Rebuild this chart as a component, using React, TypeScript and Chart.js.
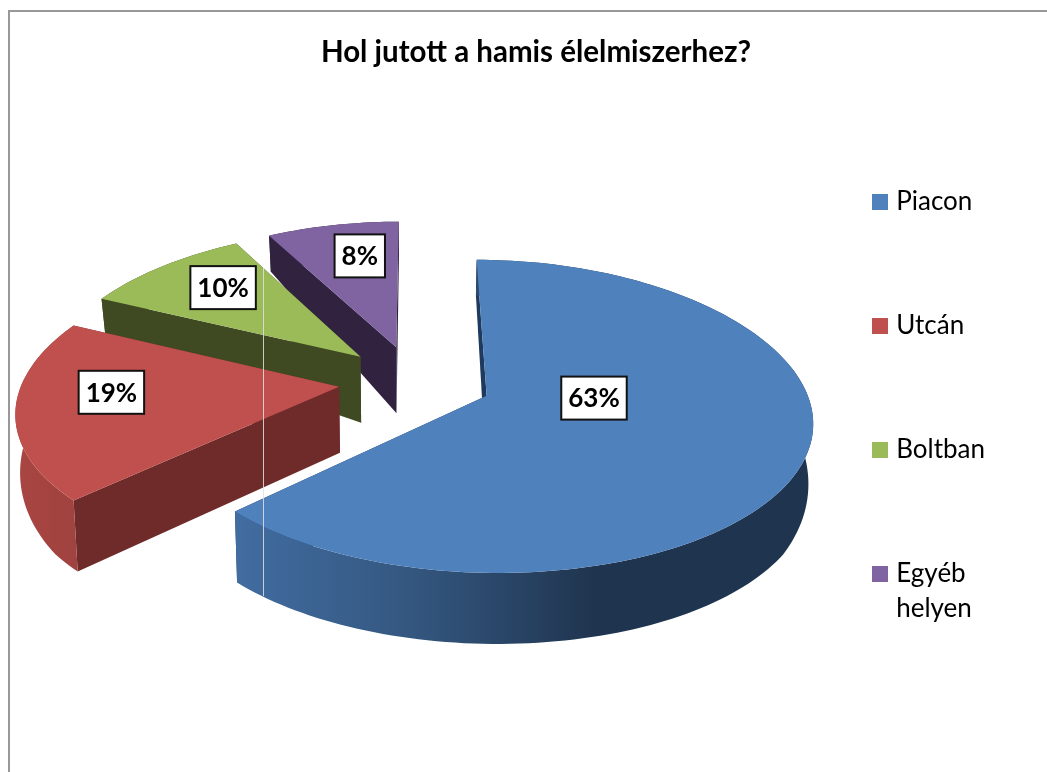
import React, { useEffect, useRef } from "react";
import { Chart, registerables } from "chart.js";

Chart.register(...registerables);

const titleText = "Hol jutott a hamis élelmiszerhez?";
const categories = ["Piacon", "Utcán", "Boltban", "Egyéb helyen"];
const legendLines = [["Piacon"], ["Utcán"], ["Boltban"], ["Egyéb", "helyen"]];
const shares = [63, 19, 10, 8];
const sliceOffsets = [30.6, 30, 30, 30];
const topColors = ["#4F81BD", "#C0504D", "#9BBB59", "#8064A2"];
const cutColors = ["#1F3A5F", "#6F2B2A", "#3F4A22", "#312340"];
const wallStops = [
  ["#426DA1", "#33567E", "#1F344E"],
  ["#A94643", "#A44340", "#A04340"],
  ["#3F4A22", "#3F4A22", "#3F4A22"],
  ["#312340", "#312340", "#312340"],
];
// label anchor relative to each slice's apex, in pie-disc units
const labelAnchors = [
  [0.333, 0.015],
  [-0.71, 0.037],
  [-0.494, -0.513],
  [-0.139, -0.703],
];

const FONT = "Lato, Carlito, sans-serif";

// pie-disc to screen projection (perspective view of the tilted pie)
const view = { ox: 414.5, oy: 381, a: 316.5, b: 150, ky: 0.13, offsetUnit: 125 };
const project = (u: number, v: number) => {
  const wx = 1 - 0.15 * v + 0.01 * v * v;
  const wy = 1 - view.ky * v;
  return { x: view.ox + (view.a * u) / wx, y: view.oy + (view.b * v) / wy };
};
const sink = (p: { x: number; y: number }, depth: number) => ({
  x: p.x + 0.012 * (view.ox - p.x),
  y: p.y + depth,
});
const rimDepth = (v: number) => Math.max(36, Math.min(71, 51.5 + 31 * v));
const APEX_DEPTH = 66;

function fillPoly(ctx: CanvasRenderingContext2D, pts: { x: number; y: number }[], fill: any) {
  ctx.beginPath();
  pts.forEach((p, i) => (i ? ctx.lineTo(p.x, p.y) : ctx.moveTo(p.x, p.y)));
  ctx.closePath();
  ctx.fillStyle = fill;
  ctx.fill();
}

const pie3d = {
  id: "pie3d",
  beforeDatasetDraw(chart: any) {
    const ctx: CanvasRenderingContext2D = chart.ctx;
    const arcs = chart.getDatasetMeta(0).data;
    ctx.save();
    for (let i = arcs.length - 1; i >= 0; i--) {
      const arc = arcs[i];
      const mid = (arc.startAngle + arc.endAngle) / 2;
      const explode = arc.options.offset / view.offsetUnit;
      const ex = Math.cos(mid) * explode;
      const ey = Math.sin(mid) * explode;
      const rim: { u: number; v: number }[] = [];
      const steps = Math.max(8, Math.round((arc.endAngle - arc.startAngle) * 40));
      for (let s = 0; s <= steps; s++) {
        const t = arc.startAngle + ((arc.endAngle - arc.startAngle) * s) / steps;
        rim.push({ u: ex + Math.cos(t), v: ey + Math.sin(t) });
      }
      const rimTop = rim.map((r) => project(r.u, r.v));
      const rimBottom = rimTop.map((p, k) => sink(p, rimDepth(rim[k].v)));
      const apex = project(ex, ey);
      const apexBottom = sink(apex, APEX_DEPTH);

      fillPoly(ctx, [apex, rimTop[0], rimBottom[0], apexBottom], cutColors[i]);
      fillPoly(ctx, [apex, rimTop[steps], rimBottom[steps], apexBottom], cutColors[i]);

      const xs = rimTop.map((p) => p.x);
      const left = Math.min(...xs);
      const span = i === 0 ? 364 : 63;
      const grad = ctx.createLinearGradient(left, 0, left + span, 0);
      wallStops[i].forEach((c, k) => grad.addColorStop(k / 2, c));
      fillPoly(ctx, [...rimTop, ...rimBottom.slice().reverse()], grad);

      fillPoly(ctx, [apex, ...rimTop], topColors[i]);
    }
    ctx.restore();
    return false;
  },
  afterDatasetsDraw(chart: any) {
    const ctx: CanvasRenderingContext2D = chart.ctx;
    const arcs = chart.getDatasetMeta(0).data;
    const values: number[] = chart.data.datasets[0].data;
    const total = values.reduce((s, n) => s + n, 0);
    ctx.save();
    // thin pale seam across the picture, as in the source image
    ctx.strokeStyle = "rgba(225,225,225,0.85)";
    ctx.lineWidth = 1;
    ctx.beginPath();
    ctx.moveTo(263.5, 268);
    ctx.lineTo(263.5, 596);
    ctx.stroke();

    ctx.font = `bold 26px ${FONT}`;
    ctx.textAlign = "center";
    ctx.textBaseline = "middle";
    arcs.forEach((arc: any, i: number) => {
      const mid = (arc.startAngle + arc.endAngle) / 2;
      const explode = arc.options.offset / view.offsetUnit;
      const p = project(
        Math.cos(mid) * explode + labelAnchors[i][0],
        Math.sin(mid) * explode + labelAnchors[i][1]
      );
      const text = `${Math.round((values[i] / total) * 100)}%`;
      const w = ctx.measureText(text).width + 14;
      const h = 43;
      ctx.fillStyle = "#fff";
      ctx.fillRect(p.x - w / 2, p.y - h / 2, w, h);
      ctx.strokeStyle = "#111";
      ctx.lineWidth = 2;
      ctx.strokeRect(p.x - w / 2, p.y - h / 2, w, h);
      ctx.fillStyle = "#000";
      ctx.fillText(text, p.x, p.y + 1);
    });
    ctx.restore();
  },
};

function swatch(color: string) {
  const c = document.createElement("canvas");
  c.width = 16;
  c.height = 16;
  const g = c.getContext("2d")!;
  g.fillStyle = color;
  g.fillRect(0, 0, 16, 16);
  return c;
}

export default function App() {
  const ref = useRef<HTMLCanvasElement>(null);
  useEffect(() => {
    const chart = new Chart(ref.current!, {
      type: "pie",
      data: {
        labels: categories,
        datasets: [{ data: shares, backgroundColor: topColors, borderWidth: 0, offset: sliceOffsets }],
      },
      options: {
        responsive: false,
        animation: false,
        layout: { padding: { left: 77, top: 0, right: 52, bottom: 0 } },
        plugins: {
          tooltip: { enabled: false },
          title: {
            display: true,
            text: titleText,
            color: "#000",
            font: { family: FONT, size: 29.5, weight: "bold" },
            padding: { top: 35, bottom: 20.5 },
            fullSize: true,
          },
          legend: {
            position: "right",
            align: "start",
            fullSize: false,
            labels: {
              color: "#000",
              font: { family: FONT, size: 26, lineHeight: 1.33 },
              usePointStyle: true,
              pointStyleWidth: 6,
              padding: 98,
              generateLabels: () =>
                legendLines.map((lines, i) => ({
                  text: lines.length > 1 ? lines : lines[0],
                  fillStyle: topColors[i],
                  strokeStyle: topColors[i],
                  lineWidth: 0,
                  pointStyle: swatch(topColors[i]),
                  index: i,
                  hidden: false,
                })) as any,
            },
          },
        },
      },
      plugins: [pie3d],
    } as any);
    return () => chart.destroy();
  }, []);
  return (
    <div style={{ position: "fixed", left: 0, top: 0, width: 1047, height: 772, overflow: "hidden", background: "#fff" }}>
      <div
        style={{
          position: "absolute",
          left: 8,
          top: 10,
          right: 0,
          bottom: 0,
          borderLeft: "2px solid #989898",
          borderTop: "2px solid #989898",
        }}
      />
      <canvas ref={ref} width={1047} height={772} style={{ position: "absolute", left: 0, top: 0, display: "block" }} />
    </div>
  );
}
